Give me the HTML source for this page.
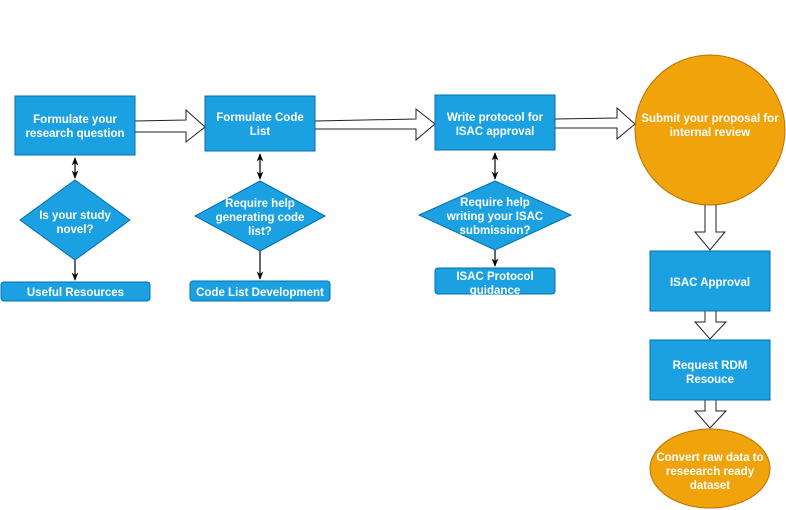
<!DOCTYPE html>
<html><head><meta charset="utf-8"><style>
html,body{margin:0;padding:0;background:#fff;}
svg{display:block;}
text{font-family:"Liberation Sans",Arial,sans-serif;font-size:11.5px;font-weight:bold;fill:#fff;text-anchor:middle;}
</style></head><body>
<svg width="786" height="510" viewBox="0 0 786 510" xmlns="http://www.w3.org/2000/svg">
<defs>
<marker id="ah" viewBox="0 0 10 10" refX="9" refY="5" markerWidth="7" markerHeight="7" orient="auto-start-reverse"><path d="M0,1 L10,5 L0,9 L3,5 z" fill="#000"/></marker>
</defs>
<g fill="#fff" stroke="#222" stroke-width="1">
<polygon points="135,121 186,120 186,110 205,127 186,142 186,132 135,132"/>
<polygon points="315,121 416,119 416,109 435,124 416,140 416,129 315,129"/>
<polygon points="555,119 617,118 617,108 635,124 617,139 617,128 555,128"/>
<polygon points="705,199 716,199 716,232 725,232 710,250 695,232 705,232"/>
<polygon points="705,311 716,311 716,322 726,322 710,339 695,322 705,322"/>
<polygon points="705,400 716,400 716,411 726,411 710,428 695,411 705,411"/>
</g>
<g stroke="#000" stroke-width="1.2" fill="none">
<line x1="75" y1="158" x2="75" y2="178" marker-start="url(#ah)" marker-end="url(#ah)"/>
<line x1="75" y1="260" x2="75" y2="280" marker-end="url(#ah)"/>
<line x1="260" y1="154" x2="260" y2="179" marker-start="url(#ah)" marker-end="url(#ah)"/>
<line x1="260" y1="251" x2="260" y2="279" marker-end="url(#ah)"/>
<line x1="495" y1="153" x2="495" y2="179" marker-start="url(#ah)" marker-end="url(#ah)"/>
<line x1="495" y1="250" x2="495" y2="266" marker-end="url(#ah)"/>
</g>
<g fill="#1ba1e2" stroke="#006eaf" stroke-width="1">
<rect x="15" y="96" width="120" height="59"/>
<rect x="205" y="96" width="110" height="55"/>
<rect x="435" y="95" width="120" height="55"/>
<rect x="650" y="251" width="120" height="60"/>
<rect x="650" y="340" width="120" height="60"/>
<polygon points="75,180 130,220 75,260 20,220"/>
<polygon points="260,181 325,216 260,251 195,216"/>
<polygon points="495,181 571,215 495,250 419,215"/>
<rect x="1" y="282" width="149" height="19" rx="3"/>
<rect x="190" y="281" width="140" height="20" rx="3"/>
<rect x="435" y="268" width="120" height="26" rx="3"/>
</g>
<g fill="#f0a30a" stroke="#bd7000" stroke-width="1">
<circle cx="710" cy="130" r="75"/>
<ellipse cx="710" cy="468.5" rx="60" ry="39.5"/>
</g>
<text x="75" y="123">Formulate your</text>
<text x="75" y="137">research question</text>
<text x="260" y="121">Formulate Code</text>
<text x="260" y="135">List</text>
<text x="495" y="121">Write protocol for</text>
<text x="495" y="135">ISAC approval</text>
<text x="710" y="122">Submit your proposal for</text>
<text x="710" y="136">internal review</text>
<text x="710" y="286">ISAC Approval</text>
<text x="710" y="369">Request RDM</text>
<text x="710" y="383">Resouce</text>
<text x="710" y="461">Convert raw data to</text>
<text x="710" y="475">reseearch ready</text>
<text x="710" y="489">dataset</text>
<text x="75" y="219">Is your study</text>
<text x="75" y="233">novel?</text>
<text x="260" y="207">Require help</text>
<text x="260" y="221">generating code</text>
<text x="260" y="235">list?</text>
<text x="495" y="206">Require help</text>
<text x="495" y="220">writing your ISAC</text>
<text x="495" y="234">submission?</text>
<text x="75.5" y="296">Useful Resources</text>
<text x="260" y="296">Code List Development</text>
<text x="495" y="280">ISAC Protocol</text>
<text x="495" y="294">guidance</text>
</svg>
</body></html>
